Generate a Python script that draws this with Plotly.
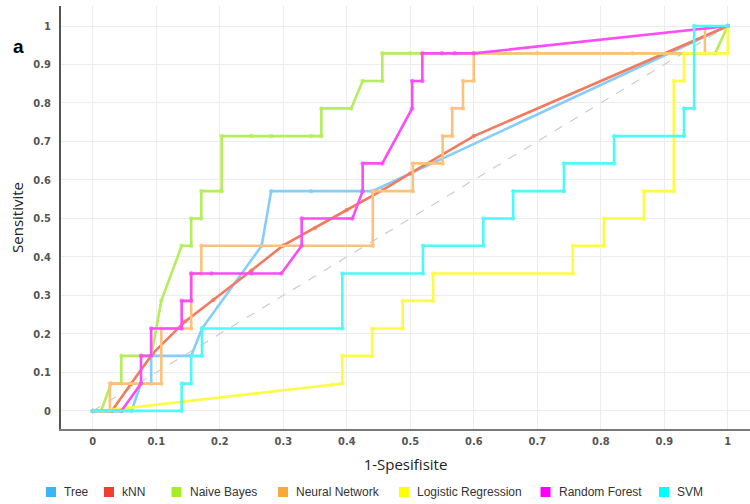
import plotly.graph_objects as go

# ROC curves: false positive rate (1-Spesifisite) vs true positive rate (Sensitivite)
tree_fpr = [0, 0.061, 0.076, 0.092, 0.092, 0.155, 0.172, 0.266, 0.281, 0.344, 0.423, 0.44, 1]
tree_tpr = [0, 0, 0.071, 0.071, 0.143, 0.143, 0.214, 0.429, 0.571, 0.571, 0.571, 0.571, 1]

knn_fpr = [0, 0.03, 0.06, 0.095, 0.145, 0.19, 0.25, 0.3, 0.35, 0.4, 0.457, 0.5, 0.6, 1]
knn_tpr = [0, 0, 0.07, 0.15, 0.232, 0.288, 0.365, 0.43, 0.475, 0.522, 0.574, 0.617, 0.714, 1]

nb_fpr = [0, 0.013, 0.029, 0.045, 0.045, 0.077, 0.092, 0.108, 0.14, 0.155, 0.155, 0.171, 0.171,
          0.203, 0.203, 0.25, 0.281, 0.344, 0.36, 0.36, 0.407, 0.425, 0.456, 0.456, 0.5, 0.98, 1]
nb_tpr = [0, 0, 0.071, 0.071, 0.143, 0.143, 0.143, 0.286, 0.429, 0.429, 0.5, 0.5, 0.571,
          0.571, 0.714, 0.714, 0.714, 0.714, 0.714, 0.786, 0.786, 0.857, 0.857, 0.929, 0.929, 0.929, 1]

nn_fpr = [0, 0.027, 0.027, 0.108, 0.108, 0.155, 0.155, 0.171, 0.171, 0.441, 0.441, 0.504, 0.504,
          0.551, 0.551, 0.566, 0.566, 0.583, 0.583, 0.6, 0.6, 0.64, 0.7, 0.85, 0.964, 0.964, 1]
nn_tpr = [0, 0, 0.071, 0.071, 0.214, 0.214, 0.357, 0.357, 0.429, 0.429, 0.571, 0.571, 0.643,
          0.643, 0.714, 0.714, 0.786, 0.786, 0.857, 0.857, 0.929, 0.929, 0.929, 0.929, 0.929, 0.995, 1]

lr_fpr = [0, 0.015, 0.377, 0.393, 0.393, 0.44, 0.44, 0.488, 0.488, 0.536, 0.536, 0.756, 0.756,
          0.805, 0.805, 0.868, 0.868, 0.915, 0.915, 0.931, 0.931, 1, 1]
lr_tpr = [0, 0, 0.068, 0.071, 0.143, 0.143, 0.214, 0.214, 0.286, 0.286, 0.357, 0.357, 0.429,
          0.429, 0.5, 0.5, 0.571, 0.571, 0.857, 0.857, 0.929, 0.929, 1]

rf_fpr = [0, 0.045, 0.076, 0.076, 0.092, 0.092, 0.14, 0.14, 0.155, 0.155, 0.187, 0.25, 0.297,
          0.329, 0.329, 0.409, 0.425, 0.425, 0.456, 0.503, 0.503, 0.519, 0.519, 0.55, 0.57, 0.6, 1]
rf_tpr = [0, 0, 0.071, 0.143, 0.143, 0.214, 0.214, 0.286, 0.286, 0.357, 0.357, 0.357, 0.357,
          0.429, 0.5, 0.5, 0.571, 0.643, 0.643, 0.786, 0.857, 0.857, 0.929, 0.929, 0.929, 0.929, 1]

svm_fpr = [0, 0.14, 0.14, 0.155, 0.155, 0.172, 0.172, 0.393, 0.393, 0.52, 0.52, 0.615, 0.615,
           0.662, 0.662, 0.742, 0.742, 0.821, 0.821, 0.931, 0.931, 0.947, 0.947, 1]
svm_tpr = [0, 0, 0.071, 0.071, 0.143, 0.143, 0.214, 0.214, 0.357, 0.357, 0.429, 0.429, 0.5,
           0.5, 0.571, 0.571, 0.643, 0.643, 0.714, 0.714, 0.786, 0.786, 1, 1]

model_names = ["Tree", "kNN", "Naive Bayes", "Neural Network", "Logistic Regression", "Random Forest", "SVM"]
curves = [(tree_fpr, tree_tpr), (knn_fpr, knn_tpr), (nb_fpr, nb_tpr), (nn_fpr, nn_tpr),
          (lr_fpr, lr_tpr), (rf_fpr, rf_tpr), (svm_fpr, svm_tpr)]
line_colors = ["#86cdfb", "#f47a5e", "#b4ee5a", "#fdc27a", "#fdfb45", "#fb4cf8", "#4ef9f9"]
legend_colors = ["#3db4f6", "#ee4030", "#a6ee24", "#f6aa3a", "#ffff00", "#ff00ff", "#00ffff"]

tick_vals = [0, 0.1, 0.2, 0.3, 0.4, 0.5, 0.6, 0.7, 0.8, 0.9, 1]
tick_text = ["0", "0.1", "0.2", "0.3", "0.4", "0.5", "0.6", "0.7", "0.8", "0.9", "1"]

# figure geometry (pixels) used to place the key row under the plot
W, H = 750, 504
M_L, M_R, M_T, M_B = 61, 0, 6, 75
PLOT_W, PLOT_H = W - M_L - M_R, H - M_T - M_B
key_centers_px = [51, 109, 176.5, 283, 404, 545.5, 664]
key_row_px = 492


def px_to_paper_x(px):
    return (px - M_L) / PLOT_W


def px_to_paper_y(py):
    return (H - M_B - py) / PLOT_H


narrow = "Liberation Sans Narrow, DejaVu Sans Condensed, Arial Narrow, sans-serif"

fig = go.Figure()

# chance diagonal
fig.add_trace(go.Scatter(x=[0, 1], y=[0, 1], mode="lines",
                         line=dict(color="#cccccc", width=1.2, dash="dash"),
                         showlegend=False, hoverinfo="skip"))

for name, (fx, ty), lc in zip(model_names, curves, line_colors):
    fig.add_trace(go.Scatter(x=fx, y=ty, mode="lines+markers", name=name,
                             line=dict(color=lc, width=2.6),
                             marker=dict(color=lc, size=4.5, opacity=0.7),
                             showlegend=False))

# key row: coloured squares with model names
shapes = []
annotations = []
half = 5
for name, c, cx in zip(model_names, legend_colors, key_centers_px):
    shapes.append(dict(type="rect", xref="paper", yref="paper",
                       x0=px_to_paper_x(cx - half), x1=px_to_paper_x(cx + half),
                       y0=px_to_paper_y(key_row_px + half), y1=px_to_paper_y(key_row_px - half),
                       fillcolor=c, line=dict(width=0)))
    annotations.append(dict(text=name, xref="paper", yref="paper",
                            x=px_to_paper_x(cx + 11), y=px_to_paper_y(key_row_px),
                            xanchor="left", yanchor="middle", showarrow=False,
                            font=dict(family="Liberation Sans, Arial", size=12, color="#333")))

annotations.append(dict(text="<b>a</b>", xref="paper", yref="paper",
                        x=px_to_paper_x(18), y=px_to_paper_y(46),
                        xanchor="center", yanchor="middle", showarrow=False,
                        font=dict(family="Liberation Sans, Arial", size=19, color="black")))

fig.update_layout(
    width=W, height=H,
    margin=dict(l=M_L, r=M_R, t=M_T, b=M_B),
    paper_bgcolor="white", plot_bgcolor="white",
    showlegend=False,
    shapes=shapes,
    annotations=annotations,
)

fig.update_xaxes(range=[-0.05, 1.035], tickvals=tick_vals, ticktext=tick_text,
                 showgrid=True, gridcolor="#ececec", gridwidth=1, zeroline=False,
                 showline=True, linecolor="#7a7a7a", linewidth=2,
                 tickfont=dict(family=narrow, size=11, color="#555", weight="bold"),
                 ticklabelstandoff=1,
                 title=dict(text="1-Spesifisite", standoff=12,
                            font=dict(family="Open Sans, Noto Sans", size=15, color="#222")))
fig.update_yaxes(range=[-0.047, 1.052], tickvals=tick_vals, ticktext=tick_text,
                 showgrid=True, gridcolor="#ececec", gridwidth=1, zeroline=False,
                 showline=True, linecolor="#555", linewidth=2,
                 tickfont=dict(family=narrow, size=11, color="#555", weight="bold"),
                 ticklabelstandoff=6,
                 title=dict(text="Sensitivite", standoff=6,
                            font=dict(family="Open Sans, Noto Sans", size=15, color="#222")))

fig.write_html("out.html")
